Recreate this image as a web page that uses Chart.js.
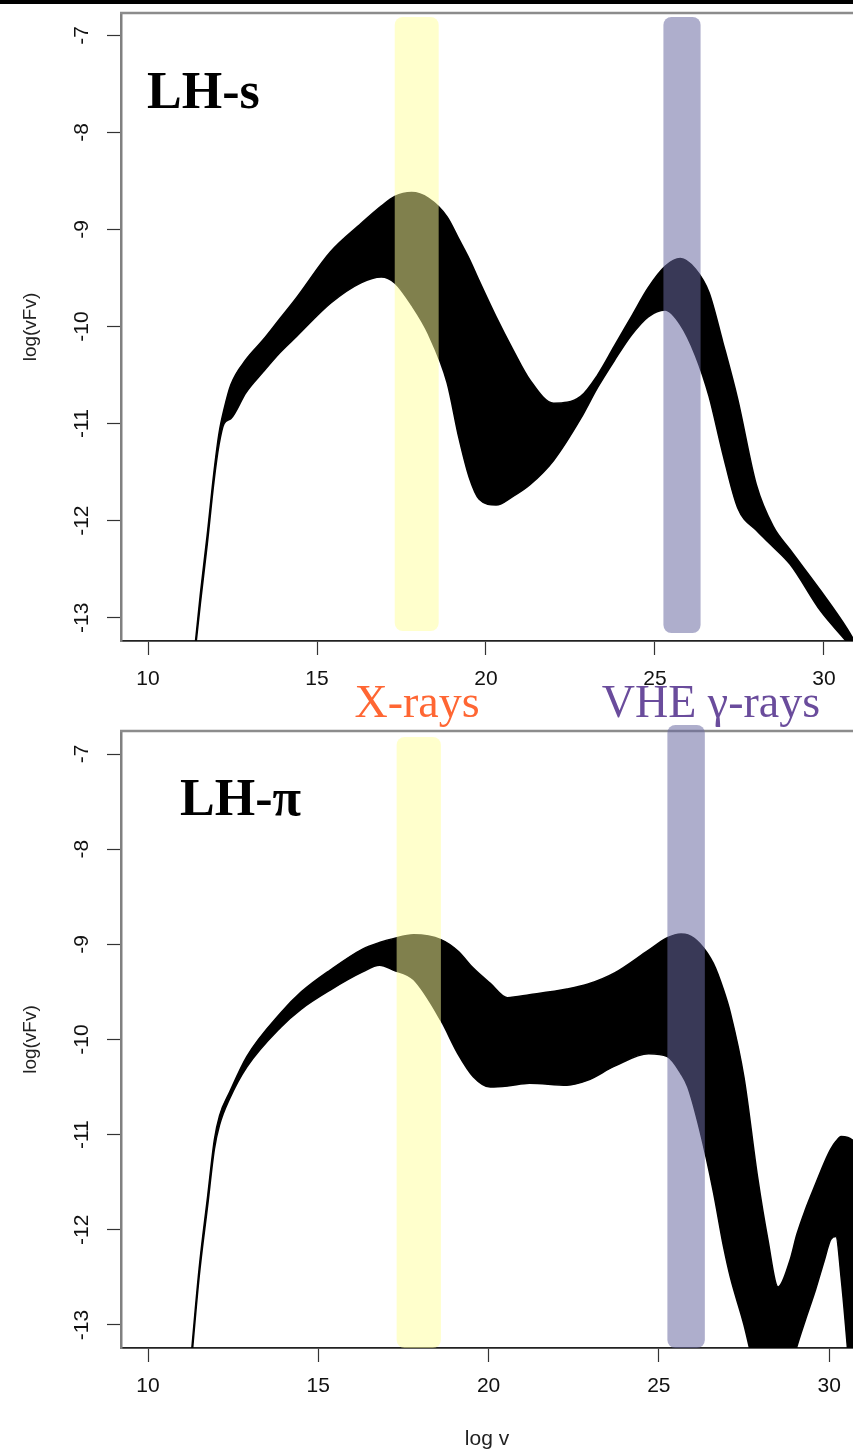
<!DOCTYPE html>
<html>
<head>
<meta charset="utf-8">
<title>LH-s / LH-π SED envelopes</title>
<script src="https://cdn.jsdelivr.net/npm/chart.js@4.4.1/dist/chart.umd.min.js"></script>
<style>
    body { margin: 0; background: #fff; }
    #page { position: relative; width: 853px; height: 1454px; overflow: hidden; background: #fff; }
    #page canvas { display: block; }
    .topbar { position: absolute; left: 0; top: 0; width: 853px; height: 4px; background: #000; }
    .panel { position: absolute; left: 0; }
    .band-label {
        position: absolute;
        font-family: "Liberation Serif", "Times New Roman", serif;
        font-size: 46px;
        line-height: 1;
        white-space: nowrap;
        transform: translateX(-50%);
    }
</style>
</head>
<body>
<div id="page">
    <div class="panel" style="top:0"><canvas id="sedS" width="853" height="690"></canvas></div>
    <div class="panel" style="top:690px"><canvas id="sedPi" width="853" height="764"></canvas></div>
    <div class="topbar"></div>
    <div class="band-label" style="left:417px; top:679px; color:#ff6633">X-rays</div>
    <div class="band-label" style="left:711px; top:679px; color:#6a4c9c">VHE γ-rays</div>
</div>
<script>
/* axis ticks */
const xTicks = [10, 15, 20, 25, 30];
const yTicks = [-13, -12, -11, -10, -9, -8, -7];

/* log nu ranges of the two observing windows */
const xrayBand = [17.3, 18.6];
const vheBand = [25.25, 26.35];

/* LH-s: upper and lower edge of the bundle of model curves */
const xS = [11.3, 11.55, 11.75, 11.95, 12.1, 12.25, 12.45, 12.9, 13.4, 13.9, 14.4, 15.4, 16.3, 16.9, 17.3, 17.8, 18.3, 18.85, 19.2, 19.5, 19.8, 20.3, 20.8, 21.3, 22.0, 22.8, 23.3, 23.8, 24.3, 24.8, 25.3, 25.75, 26.2, 26.6, 27.0, 27.45, 28.0, 28.5, 29.0, 29.9, 30.7, 31.0];
const upperS = [-13.6, -12.75, -12.15, -11.5, -11.1, -10.85, -10.6, -10.34, -10.14, -9.92, -9.7, -9.23, -8.94, -8.76, -8.66, -8.62, -8.68, -8.87, -9.1, -9.3, -9.53, -9.9, -10.24, -10.55, -10.79, -10.72, -10.5, -10.2, -9.9, -9.6, -9.38, -9.3, -9.41, -9.65, -10.15, -10.75, -11.63, -12.06, -12.3, -12.72, -13.12, -13.3];
const lowerS = [-13.65, -12.85, -12.25, -11.6, -11.22, -11.0, -10.95, -10.68, -10.47, -10.27, -10.1, -9.76, -9.55, -9.49, -9.55, -9.78, -10.08, -10.58, -11.15, -11.55, -11.78, -11.84, -11.75, -11.63, -11.38, -10.95, -10.63, -10.35, -10.09, -9.9, -9.83, -9.98, -10.3, -10.72, -11.3, -11.87, -12.1, -12.27, -12.45, -12.93, -13.26, -13.4];

/* LH-s: some of the lighter single curves inside the bundle */
const sheenS1X = [17.3, 17.8, 18.3, 18.85, 19.5, 20.3, 20.8, 21.3, 21.8, 22.3];
const sheenS1Y = [-8.8, -8.78, -8.86, -9.11, -9.55, -10.12, -10.5, -10.78, -10.96, -11.0];
const sheenS2X = [17.3, 17.8, 18.3, 18.85, 19.5, 20.3, 20.8, 21.3, 21.8];
const sheenS2Y = [-8.86, -8.85, -8.94, -9.2, -9.66, -10.24, -10.6, -10.87, -11.05];
const sheenS3X = [19.3, 19.8, 20.3, 20.8, 21.3, 21.8];
const sheenS3Y = [-11.1, -11.62, -11.7, -11.62, -11.5, -11.3];
const sheenS4X = [15.8, 16.3, 16.9, 17.3];
const sheenS4Y = [-9.62, -9.51, -9.45, -9.5];

/* LH-pi: upper and lower edge of the bundle */
const xP = [11.2, 11.5, 11.75, 11.95, 12.1, 12.4, 12.9, 13.9, 14.5, 15.35, 16.3, 16.8, 17.2, 17.8, 18.6, 19.1, 19.55, 20.05, 20.55, 21.2, 22.3, 22.9, 23.7, 24.7, 25.25, 25.65, 25.85, 26.2, 26.6, 26.9, 27.1, 27.5, 27.9, 28.2, 28.5, 28.85, 29.05, 29.3, 29.6, 29.85, 30.05, 30.2, 30.35, 30.55, 30.7, 31.0];
const upperP = [-13.6, -12.41, -11.65, -11.05, -10.8, -10.55, -10.18, -9.72, -9.5, -9.27, -9.05, -8.98, -8.94, -8.9, -8.95, -9.07, -9.25, -9.41, -9.56, -9.53, -9.47, -9.42, -9.3, -9.06, -8.93, -8.89, -8.9, -8.99, -9.2, -9.48, -9.72, -10.4, -11.45, -12.1, -12.6, -12.32, -12.05, -11.79, -11.52, -11.3, -11.15, -11.07, -11.02, -11.03, -11.06, -11.15];
const lowerP = [-13.7, -12.5, -11.75, -11.15, -10.9, -10.62, -10.29, -9.87, -9.68, -9.48, -9.29, -9.22, -9.27, -9.37, -9.8, -10.15, -10.39, -10.5, -10.49, -10.46, -10.48, -10.43, -10.28, -10.15, -10.18, -10.36, -10.5, -10.95, -11.6, -12.18, -12.5, -13.0, -13.6, -13.9, -14.0, -13.5, -13.23, -12.95, -12.63, -12.33, -12.1, -12.07, -12.5, -13.3, -14.0, -14.5];

const sheenP1X = [19.55, 20.05, 21.2, 22.3, 23.7, 24.7, 25.25, 25.65, 26.0];
const sheenP1Y = [-10.3, -10.42, -10.4, -10.42, -10.2, -10.06, -10.08, -10.24, -10.5];
const sheenP2X = [19.55, 20.05, 21.2, 22.3, 23.7, 24.7, 25.25, 25.65, 26.0];
const sheenP2Y = [-10.34, -10.46, -10.44, -10.45, -10.24, -10.1, -10.13, -10.3, -10.58];

const sansFont = '"Liberation Sans", Arial, Helvetica, sans-serif';

const toPoints = (xs, ys) => xs.map((x, i) => ({ x: x, y: ys[i] }));

// bands, box top edge, rotated y labels and the model name
const panelDecor = {
    id: 'panelDecor',
    beforeDatasetsDraw(chart) {
        const { ctx, chartArea } = chart;
        ctx.save();
        ctx.strokeStyle = '#8c8c8c';
        ctx.lineWidth = 2.5;
        ctx.beginPath();
        ctx.moveTo(chartArea.left - 1, chartArea.top);
        ctx.lineTo(chartArea.right, chartArea.top);
        ctx.stroke();
        ctx.restore();
    },
    afterDatasetsDraw(chart, args, opts) {
        const { ctx, chartArea, scales } = chart;
        ctx.save();
        opts.bands.forEach((band) => {
            const x0 = scales.x.getPixelForValue(band.range[0]);
            const x1 = scales.x.getPixelForValue(band.range[1]);
            const y0 = chartArea.top + band.inset[0];
            const y1 = chartArea.bottom - band.inset[1];
            ctx.fillStyle = band.color;
            ctx.beginPath();
            ctx.roundRect(x0, y0, x1 - x0, y1 - y0, 8);
            ctx.fill();
        });
        ctx.restore();
    },
    afterDraw(chart, args, opts) {
        const { ctx, chartArea, scales } = chart;
        ctx.save();
        ctx.fillStyle = '#111';
        ctx.font = '21px ' + sansFont;
        ctx.textAlign = 'center';
        ctx.textBaseline = 'middle';
        yTicks.forEach((v) => {
            ctx.save();
            ctx.translate(opts.yLabelX, scales.y.getPixelForValue(v));
            ctx.rotate(-Math.PI / 2);
            ctx.fillText(String(v), 0, 0);
            ctx.restore();
        });

        ctx.fillStyle = '#000';
        ctx.font = 'bold 52px "Liberation Serif", "Times New Roman", serif';
        ctx.textAlign = 'left';
        ctx.textBaseline = 'alphabetic';
        ctx.fillText(opts.name, chartArea.left + opts.nameAt[0], chartArea.top + opts.nameAt[1]);
        ctx.restore();
    },
};

function makePanel(canvasId, p) {
    const edge = { borderColor: '#000', borderWidth: 1.5, pointRadius: 0, cubicInterpolationMode: 'monotone' };
    const sheen = p.sheens.map((s) => ({
        data: toPoints(s[0], s[1]),
        borderColor: 'rgba(255,255,255,0.55)',
        borderWidth: 1,
        pointRadius: 0,
        fill: false,
        cubicInterpolationMode: 'monotone',
    }));

    return new Chart(document.getElementById(canvasId), {
        type: 'line',
        data: {
            datasets: [
                Object.assign({ data: toPoints(p.x, p.lower), fill: false }, edge),
                Object.assign({ data: toPoints(p.x, p.upper), fill: '-1', backgroundColor: '#000' }, edge),
                ...sheen,
            ],
        },
        options: {
            responsive: false,
            animation: false,
            events: [],
            layout: { padding: { top: p.padTop, left: 0, right: 0, bottom: 0 } },
            plugins: {
                legend: { display: false },
                tooltip: { enabled: false },
                panelDecor: {
                    name: p.name,
                    nameAt: p.nameAt,
                    yLabelX: 82,
                    bands: [
                        { range: xrayBand, color: 'rgba(255,255,153,0.5)', inset: p.xrayInset },
                        { range: vheBand, color: 'rgba(106,106,160,0.54)', inset: p.vheInset },
                    ],
                },
            },
            scales: {
                x: {
                    type: 'linear',
                    min: p.xMin,
                    max: p.xMax,
                    afterBuildTicks: (scale) => { scale.ticks = xTicks.map((v) => ({ value: v })); },
                    afterFit: (scale) => { scale.height = p.xAxisHeight; },
                    grid: { drawOnChartArea: false, drawTicks: true, tickLength: 14, tickColor: '#333', tickWidth: 1.2 },
                    border: { color: '#222', width: 1.8 },
                    ticks: { color: '#111', font: { family: sansFont, size: 21 }, padding: 12, maxRotation: 0 },
                    title: p.xTitle,
                },
                y: {
                    type: 'linear',
                    min: p.yMin,
                    max: p.yMax,
                    afterBuildTicks: (scale) => { scale.ticks = yTicks.map((v) => ({ value: v })); },
                    afterFit: (scale) => { scale.width = 121; },
                    grid: { drawOnChartArea: false, drawTicks: true, tickLength: 14, tickColor: '#333', tickWidth: 1.2 },
                    border: { color: '#808080', width: 2.5 },
                    ticks: { display: false },
                    title: {
                        display: true,
                        text: 'log(vFv)',
                        color: '#222',
                        font: { family: sansFont, size: 19 },
                        padding: { top: 19, bottom: 0 },
                    },
                },
            },
        },
        plugins: [panelDecor],
    });
}

makePanel('sedS', {
    name: 'LH-s',
    nameAt: [26, 95],
    x: xS, upper: upperS, lower: lowerS,
    sheens: [[sheenS1X, sheenS1Y], [sheenS2X, sheenS2Y], [sheenS3X, sheenS3Y], [sheenS4X, sheenS4Y]],
    xMin: 9.2, xMax: 30.86,
    yMin: -13.24, yMax: -6.77,
    padTop: 13,
    xAxisHeight: 49,
    xrayInset: [4, 10],
    vheInset: [4, 8],
    xTitle: { display: false },
});

makePanel('sedPi', {
    name: 'LH-π',
    nameAt: [59, 84],
    x: xP, upper: upperP, lower: lowerP,
    sheens: [[sheenP1X, sheenP1Y], [sheenP2X, sheenP2Y]],
    xMin: 9.207, xMax: 30.7,
    yMin: -13.242, yMax: -6.758,
    padTop: 41,
    xAxisHeight: 106,
    xrayInset: [6, 0],
    vheInset: [-6, 0],
    xTitle: {
        display: true,
        text: 'log v',
        color: '#222',
        font: { family: sansFont, size: 21 },
        padding: { top: 0, bottom: 2 },
    },
});
</script>
</body>
</html>
